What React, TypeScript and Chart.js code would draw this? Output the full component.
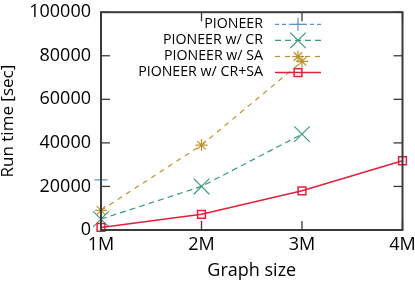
import React, { useEffect, useRef } from 'react';
import { Chart, registerables } from 'chart.js';

Chart.register(...registerables);

const categories = ['1M', '2M', '3M', '4M'];
const seriesNames = ['PIONEER', 'PIONEER w/ CR', 'PIONEER w/ SA', 'PIONEER w/ CR+SA'];
const pioneer = [23000, null, null, null];
const pioneerCR = [5000, 20000, 44000, null];
const pioneerSA = [9000, 39000, 77400, null];
const pioneerCRSA = [1200, 7200, 18000, 31800];
const yMin = 0;
const yMax = 100000;
const yStep = 20000;

const FONT = '"Open Sans", "DejaVu Sans", sans-serif';
const colors = ['#5f92d4', '#3b9a78', '#be912c', '#e2203c'];
const dashes = [[4, 3], [6, 4], [5, 5], []];
const styles = ['cross', 'crossRot', 'star', 'rect'];
const radii = [6.5, 11, 6, 5.5];

function drawMarker(ctx: CanvasRenderingContext2D, style: string, x: number, y: number, r: number) {
  ctx.beginPath();
  if (style === 'cross' || style === 'star') {
    ctx.moveTo(x - r, y); ctx.lineTo(x + r, y);
    ctx.moveTo(x, y - r); ctx.lineTo(x, y + r);
  }
  if (style === 'crossRot' || style === 'star') {
    const d = r * Math.SQRT1_2;
    ctx.moveTo(x - d, y - d); ctx.lineTo(x + d, y + d);
    ctx.moveTo(x - d, y + d); ctx.lineTo(x + d, y - d);
  }
  if (style === 'rect') {
    const s = r * Math.SQRT1_2;
    ctx.rect(x - s, y - s, 2 * s, 2 * s);
  }
  ctx.stroke();
}

const gnuplotPlugin = {
  id: 'gnuplotFrame',
  afterDatasetsDraw(chart: any) {
    const { ctx, chartArea: a, scales } = chart;
    ctx.save();
    ctx.strokeStyle = '#3a3a3a';
    ctx.lineWidth = 1.3;
    ctx.setLineDash([]);
    const tl = 9;
    const line = (x1: number, y1: number, x2: number, y2: number) => {
      ctx.beginPath(); ctx.moveTo(x1, y1); ctx.lineTo(x2, y2); ctx.stroke();
    };
    for (const t of scales.y.ticks) {
      const y = scales.y.getPixelForValue(t.value);
      line(a.left, y, a.left + tl, y);
      line(a.right, y, a.right - tl, y);
    }
    categories.forEach((_, i) => {
      const x = scales.x.getPixelForValue(i);
      line(x, a.bottom, x, a.bottom - tl);
      line(x, a.top, x, a.top + tl);
    });
    ctx.lineWidth = 2;
    ctx.strokeRect(a.left, a.top, a.right - a.left, a.bottom - a.top);

    // key
    ctx.font = `14.2px ${FONT}`;
    ctx.textAlign = 'right';
    ctx.textBaseline = 'middle';
    seriesNames.forEach((name, i) => {
      const y = 23.8 + i * 16.1;
      ctx.fillStyle = '#000';
      ctx.fillText(name, 263, y);
      ctx.strokeStyle = colors[i];
      ctx.lineWidth = i === 3 ? 1.5 : 1.2;
      ctx.setLineDash(dashes[i]);
      line(275, y + 0.5, 321, y + 0.5);
      ctx.setLineDash([]);
      drawMarker(ctx, styles[i], 298, y + 0.5, radii[i]);
    });
    ctx.restore();
  },
};

export default function App() {
  const ref = useRef<HTMLCanvasElement>(null);
  useEffect(() => {
    const series = [pioneer, pioneerCR, pioneerSA, pioneerCRSA];
    const chart = new Chart(ref.current!, {
      type: 'line',
      data: {
        labels: categories,
        datasets: series.map((d, i) => ({
          label: seriesNames[i],
          data: d,
          borderColor: colors[i],
          backgroundColor: 'transparent',
          pointBackgroundColor: 'transparent',
          pointBorderColor: colors[i],
          borderDash: dashes[i],
          borderWidth: i === 3 ? 1.5 : 1.2,
          pointStyle: styles[i] as any,
          pointRadius: radii[i],
          pointBorderWidth: i === 3 ? 1.5 : 1.2,
          tension: 0,
          clip: false as any,
          order: 3 - i,
        })),
      },
      options: {
        animation: false,
        responsive: false,
        maintainAspectRatio: false,
        layout: { padding: { top: 7.5, right: 12.5, left: 0, bottom: 0 } },
        plugins: { legend: { display: false }, tooltip: { enabled: false } },
        scales: {
          x: {
            type: 'category',
            offset: false,
            grid: { display: false, drawTicks: false },
            border: { display: false },
            ticks: { color: '#000', font: { family: FONT, size: 18 }, padding: 4, maxRotation: 0 },
            title: { display: true, text: 'Graph size', color: '#000', font: { family: FONT, size: 18, lineHeight: 1.2 }, padding: { top: 0, bottom: 2 } },
            afterFit: (s: any) => { s.height = 54; s.paddingLeft = 0; s.paddingRight = 0; },
          },
          y: {
            min: yMin,
            max: yMax,
            grid: { display: false, drawTicks: false },
            border: { display: false },
            ticks: {
              stepSize: yStep,
              color: '#000',
              font: { family: FONT, size: 18 },
              padding: 10,
              callback: (v: any) => String(v),
            },
            title: { display: true, text: 'Run time [sec]', color: '#000', font: { family: FONT, size: 17, lineHeight: 1 }, padding: 0 },
            afterFit: (s: any) => { s.width = 101; s.paddingTop = 0; s.paddingBottom = 0; },
          },
        },
      },
      plugins: [gnuplotPlugin],
    });
    return () => chart.destroy();
  }, []);
  return (
    <div style={{ position: 'fixed', left: 0, top: 0, width: 415, height: 284, background: '#fff' }}>
      <canvas ref={ref} width={415} height={284} />
    </div>
  );
}
